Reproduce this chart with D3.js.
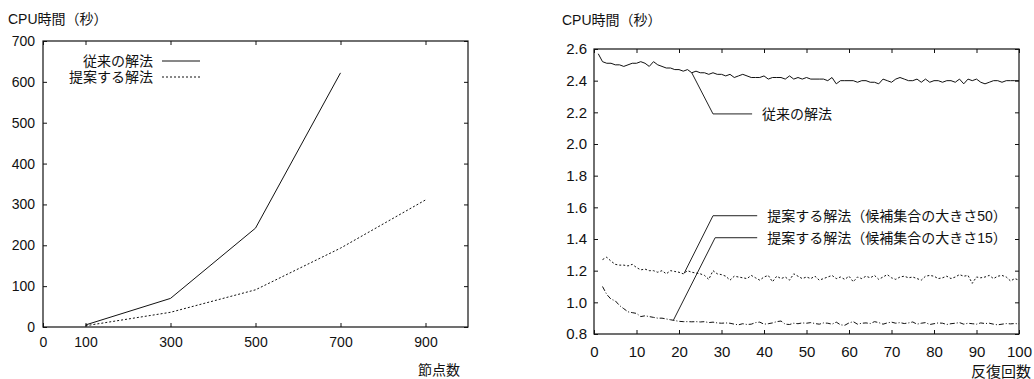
<!DOCTYPE html>
<html>
<head>
<meta charset="utf-8">
<script src="https://cdn.jsdelivr.net/npm/d3@7"></script>
<style>
  body { margin: 0; background: #fff; }
  text { font-family: "Liberation Sans", Arial, "Noto Sans CJK JP", sans-serif; fill: #111; }
  .axis path { display: none; }
  .axis line { stroke: #111; }
</style>
</head>
<body>
<div class="chart_container"></div>
<script>
// ---- 左: 節点数 vs CPU時間 ----
const nodeCounts = [100, 300, 500, 700, 900]
const oldMethodL = [5, 70, 242, 622]          // 従来の解法 (100..700)
const newMethodL = [3, 36, 91, 193, 311]      // 提案する解法 (100..900)
const xTicksL = [0, 100, 300, 500, 700, 900]
const yTicksL = [0, 100, 200, 300, 400, 500, 600, 700]

// ---- 右: 反復回数 vs CPU時間 ----
const oldMethodR = [ // 反復 1..100
  2.57, 2.52, 2.51, 2.51, 2.50, 2.50, 2.49, 2.50, 2.51, 2.51,
  2.52, 2.51, 2.49, 2.52, 2.50, 2.49, 2.48, 2.48, 2.47, 2.47,
  2.46, 2.47, 2.45, 2.46, 2.45, 2.45, 2.44, 2.45, 2.44, 2.44,
  2.43, 2.44, 2.42, 2.43, 2.44, 2.43, 2.42, 2.42, 2.42, 2.43,
  2.41, 2.42, 2.42, 2.42, 2.41, 2.43, 2.41, 2.42, 2.41, 2.42,
  2.41, 2.41, 2.41, 2.41, 2.40, 2.42, 2.38, 2.40, 2.40, 2.40,
  2.40, 2.39, 2.40, 2.40, 2.39, 2.39, 2.38, 2.41, 2.40, 2.39,
  2.41, 2.42, 2.41, 2.40, 2.40, 2.41, 2.39, 2.41, 2.39, 2.40,
  2.40, 2.39, 2.40, 2.40, 2.39, 2.41, 2.38, 2.41, 2.40, 2.41,
  2.39, 2.38, 2.39, 2.40, 2.40, 2.39, 2.40, 2.40, 2.40, 2.40
]
const newMethod50 = [ // 反復 2..100
  1.27, 1.285, 1.26, 1.24, 1.235, 1.235, 1.23, 1.24, 1.22,
  1.205, 1.21, 1.20, 1.20, 1.19, 1.20, 1.18, 1.20, 1.195, 1.19,
  1.18, 1.20, 1.19, 1.185, 1.18, 1.17, 1.145, 1.20, 1.18, 1.175,
  1.165, 1.14, 1.165, 1.16, 1.155, 1.15, 1.17, 1.155, 1.14, 1.16,
  1.17, 1.13, 1.165, 1.15, 1.16, 1.14, 1.18, 1.165, 1.15, 1.16,
  1.15, 1.165, 1.14, 1.15, 1.16, 1.17, 1.15, 1.16, 1.145, 1.165,
  1.13, 1.16, 1.15, 1.165, 1.155, 1.17, 1.145, 1.16, 1.175, 1.155,
  1.145, 1.16, 1.165, 1.155, 1.16, 1.15, 1.14, 1.165, 1.17, 1.165,
  1.15, 1.155, 1.165, 1.15, 1.16, 1.175, 1.165, 1.17, 1.12, 1.16,
  1.155, 1.16, 1.17, 1.15, 1.165, 1.17, 1.16, 1.135, 1.15, 1.14
]
const newMethod15 = [ // 反復 2..100
  1.10, 1.05, 1.02, 1.01, 0.98, 0.96, 0.94, 0.935, 0.93,
  0.91, 0.915, 0.91, 0.905, 0.90, 0.90, 0.895, 0.89, 0.885, 0.88,
  0.878, 0.878, 0.877, 0.878, 0.876, 0.878, 0.872, 0.875, 0.870, 0.868,
  0.870, 0.868, 0.862, 0.858, 0.865, 0.860, 0.862, 0.872, 0.875, 0.862,
  0.865, 0.870, 0.878, 0.882, 0.862, 0.860, 0.868, 0.865, 0.870, 0.868,
  0.872, 0.866, 0.862, 0.870, 0.868, 0.862, 0.875, 0.858, 0.855, 0.870,
  0.878, 0.862, 0.868, 0.870, 0.866, 0.878, 0.872, 0.862, 0.870, 0.875,
  0.868, 0.872, 0.866, 0.870, 0.876, 0.862, 0.868, 0.872, 0.860, 0.865,
  0.870, 0.868, 0.860, 0.865, 0.868, 0.872, 0.862, 0.868, 0.865, 0.862,
  0.870, 0.866, 0.868, 0.862, 0.858, 0.862, 0.866, 0.864, 0.866, 0.864
]
const xTicksR = [0, 10, 20, 30, 40, 50, 60, 70, 80, 90, 100]
const yTicksR = [0.8, 1.0, 1.2, 1.4, 1.6, 1.8, 2.0, 2.2, 2.4, 2.6]

// 注釈 (矢印線の折れ点は データ座標)
const notesR = [
  { text: '従来の解法', pts: [[23, 2.45], [28, 2.19], [37.2, 2.19]] },
  { text: '提案する解法（候補集合の大きさ50）', pts: [[21.2, 1.183], [28, 1.547], [38.4, 1.547]] },
  { text: '提案する解法（候補集合の大きさ15）', pts: [[18.7, 0.888], [28.5, 1.408], [38.4, 1.408]] }
]

const svg = d3.select('.chart_container').append('svg')
  .attr('width', 1034).attr('height', 379)

function frame(g, w, h, xScale, yScale, xTicks, yTicks, yFmt, fs, xPad, yPad) {
  const tk = 4
  g.append('g').attr('class', 'axis').attr('transform', `translate(0,${h})`)
    .call(d3.axisBottom(xScale).tickValues(xTicks).tickSizeInner(-tk).tickSizeOuter(0).tickPadding(xPad))
    .selectAll('text').style('font-size', fs + 'px')
  g.append('g').attr('class', 'axis')
    .call(d3.axisTop(xScale).tickValues(xTicks).tickSizeInner(-tk).tickSizeOuter(0).tickFormat(''))
  g.append('g').attr('class', 'axis')
    .call(d3.axisLeft(yScale).tickValues(yTicks).tickSizeInner(-tk).tickSizeOuter(0).tickPadding(yPad).tickFormat(yFmt))
    .selectAll('text').style('font-size', fs + 'px')
  g.append('g').attr('class', 'axis').attr('transform', `translate(${w},0)`)
    .call(d3.axisRight(yScale).tickValues(yTicks).tickSizeInner(-tk).tickSizeOuter(0).tickFormat(''))
  g.append('rect').attr('width', w).attr('height', h)
    .style('fill', 'none').style('stroke', '#111').style('stroke-width', 1.2)
}

// ---------- 左グラフ ----------
{
  const left = 43, top = 41, w = 425, h = 286
  const g = svg.append('g').attr('transform', `translate(${left},${top})`)
  const x = d3.scaleLinear().domain([0, 1000]).range([0, w])
  const y = d3.scaleLinear().domain([0, 700]).range([h, 0])
  frame(g, w, h, x, y, xTicksL, yTicksL, d3.format('d'), 14, 10, 8)

  const line = d3.line().x(d => x(d[0])).y(d => y(d[1]))
  g.append('path').attr('d', line(oldMethodL.map((v, i) => [nodeCounts[i], v])))
    .style('fill', 'none').style('stroke', '#111').style('stroke-width', 1)
  g.append('path').attr('d', line(newMethodL.map((v, i) => [nodeCounts[i], v])))
    .style('fill', 'none').style('stroke', '#111').style('stroke-width', 1)
    .style('stroke-dasharray', '2,2')

  // 凡例
  const legend = [
    { name: '従来の解法', dash: null, yy: 20 },
    { name: '提案する解法', dash: '2,2', yy: 36 }
  ]
  legend.forEach(d => {
    g.append('text').attr('x', 110).attr('y', d.yy).attr('dy', '0.35em')
      .style('text-anchor', 'end').style('font-size', '14px').text(d.name)
    g.append('line').attr('x1', 119).attr('x2', 157).attr('y1', d.yy).attr('y2', d.yy)
      .style('stroke', '#111').style('stroke-dasharray', d.dash)
  })

  svg.append('text').attr('x', 8).attr('y', 19).attr('dy', '0.35em')
    .style('font-size', '14px').text('CPU時間（秒）')
  svg.append('text').attr('x', 418).attr('y', 370).attr('dy', '0.35em')
    .style('font-size', '14px').text('節点数')
}

// ---------- 右グラフ ----------
{
  const left = 594, top = 49, w = 425, h = 285
  const g = svg.append('g').attr('transform', `translate(${left},${top})`)
  const x = d3.scaleLinear().domain([0, 100]).range([0, w])
  const y = d3.scaleLinear().domain([0.8, 2.6]).range([h, 0])
  frame(g, w, h, x, y, xTicksR, yTicksR, d3.format('.1f'), 15, 12, 7)

  const line = d3.line().x(d => x(d[0])).y(d => y(d[1]))
  const series = [
    { values: oldMethodR.map((v, i) => [i + 1, v]), dash: null },
    { values: newMethod50.map((v, i) => [i + 2, v]), dash: '2,2' },
    { values: newMethod15.map((v, i) => [i + 2, v]), dash: '5,2,1,2' }
  ]
  g.selectAll('.series').data(series).enter().append('path')
    .attr('class', 'series')
    .attr('d', d => line(d.values))
    .style('fill', 'none').style('stroke', '#111').style('stroke-width', 1)
    .style('stroke-dasharray', d => d.dash)

  notesR.forEach(n => {
    g.append('path').attr('d', line(n.pts))
      .style('fill', 'none').style('stroke', '#222').style('stroke-width', 1)
    const last = n.pts[n.pts.length - 1]
    g.append('text').attr('x', x(last[0]) + 10).attr('y', y(last[1])).attr('dy', '0.35em')
      .style('font-size', '14px').text(n.text)
  })

  svg.append('text').attr('x', 562).attr('y', 20).attr('dy', '0.35em')
    .style('font-size', '14px').text('CPU時間（秒）')
  svg.append('text').attr('x', 971).attr('y', 372).attr('dy', '0.35em')
    .style('font-size', '15px').text('反復回数')
}
</script>
</body>
</html>
